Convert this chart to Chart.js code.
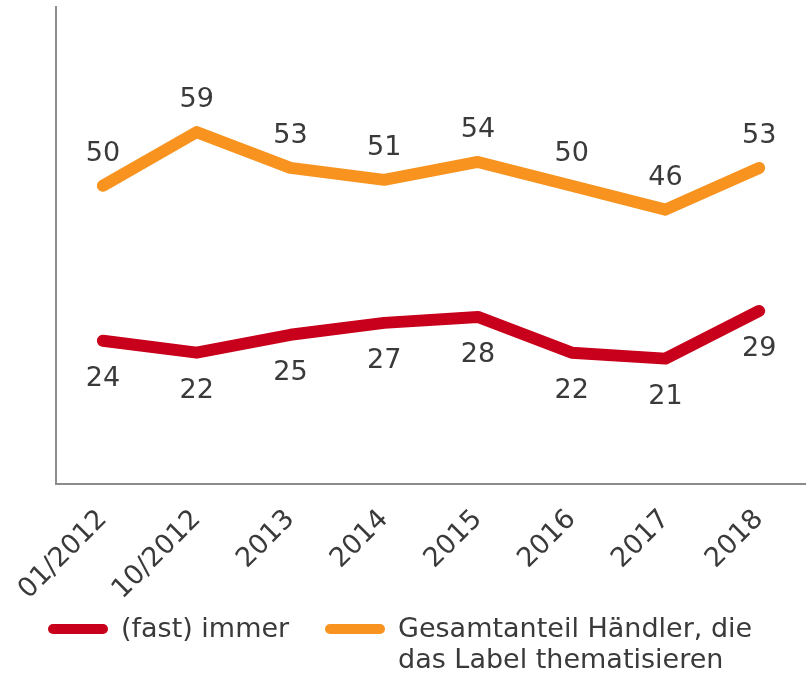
<!doctype html>
<html>
<head>
<title>Label thematisieren</title>
<script src="https://cdn.jsdelivr.net/npm/chart.js@4/dist/chart.umd.min.js"></script>
<style>
body { margin: 0; background: #fff; }
#container { width: 806px; height: 675px; }
</style>
</head>
<body>
	<div id="container">
		<canvas id="canvas" width="806" height="675"></canvas>
	</div>

	<script>
	// data
	var labels = ['01/2012', '10/2012', '2013', '2014', '2015', '2016', '2017', '2018'];
	var immer = [24, 22, 25, 27, 28, 22, 21, 29];
	var gesamt = [50, 59, 53, 51, 54, 50, 46, 53];
	var seriesNames = [['(fast) immer'], ['Gesamtanteil Händler, die', 'das Label thematisieren']];

	var red = '#c8001b';
	var orange = '#f7931e';
	var textColor = '#3a3a3a';
	var axisColor = '#8c8c8c';
	var fontFamily = '"DejaVu Sans", Verdana, sans-serif';

	// value labels: orange above the line, red below
	var valueLabels = {
		id: 'valueLabels',
		afterDatasetsDraw: function(chart) {
			var ctx = chart.ctx;
			ctx.save();
			ctx.font = '27px ' + fontFamily;
			ctx.fillStyle = textColor;
			ctx.textAlign = 'center';
			ctx.textBaseline = 'middle';
			chart.data.datasets.forEach(function(ds, i) {
				var meta = chart.getDatasetMeta(i);
				meta.data.forEach(function(pt, j) {
					var dy = ds.labelBelow ? 38 : -32;
					ctx.fillText(ds.data[j], pt.x, pt.y + dy);
				});
			});
			ctx.restore();
		}
	};

	// legend drawn by hand so the second entry can wrap
	var bottomLegend = {
		id: 'bottomLegend',
		afterDraw: function(chart) {
			var ctx = chart.ctx;
			var starts = [48, 325];
			ctx.save();
			ctx.font = '27px ' + fontFamily;
			ctx.textBaseline = 'middle';
			ctx.textAlign = 'left';
			chart.data.datasets.forEach(function(ds, i) {
				var x = starts[i];
				var y = 629;
				ctx.strokeStyle = ds.borderColor;
				ctx.lineWidth = 10;
				ctx.lineCap = 'round';
				ctx.beginPath();
				ctx.moveTo(x + 5, y);
				ctx.lineTo(x + 55, y);
				ctx.stroke();
				ctx.fillStyle = textColor;
				seriesNames[i].forEach(function(line, k) {
					ctx.fillText(line, x + 73, y + 1 + k * 31);
				});
			});
			ctx.restore();
		}
	};

	var ctx = document.getElementById('canvas').getContext('2d');
	window.myLine = new Chart(ctx, {
		type: 'line',
		data: {
			labels: labels,
			datasets: [{
				label: seriesNames[0].join(' '),
				data: immer,
				borderColor: red,
				backgroundColor: red,
				borderWidth: 12,
				labelBelow: true
			}, {
				label: seriesNames[1].join(' '),
				data: gesamt,
				borderColor: orange,
				backgroundColor: orange,
				borderWidth: 12,
				labelBelow: false
			}]
		},
		options: {
			responsive: false,
			animation: false,
			layout: { padding: { left: 56, right: 0, top: 7, bottom: 49 } },
			elements: {
				line: { tension: 0, borderCapStyle: 'round', borderJoinStyle: 'round' },
				point: { radius: 0, hoverRadius: 0 }
			},
			plugins: {
				legend: { display: false },
				tooltip: { enabled: false }
			},
			scales: {
				x: {
					offset: true,
					grid: { display: false, drawTicks: false },
					border: { display: true, color: axisColor, width: 2 },
					ticks: {
						color: textColor,
						font: { family: fontFamily, size: 27 },
						maxRotation: 45,
						minRotation: 45,
						padding: 20,
						autoSkip: false
					}
				},
				y: {
					min: 0,
					max: 80,
					grid: { display: false, drawTicks: false },
					border: { display: true, color: axisColor, width: 2 },
					ticks: { display: false }
				}
			}
		},
		plugins: [valueLabels, bottomLegend]
	});
	</script>
</body>
</html>
